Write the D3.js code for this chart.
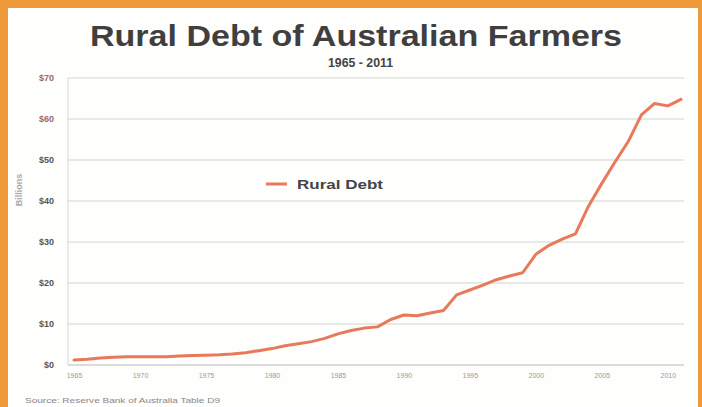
<!DOCTYPE html>
<html><head><meta charset="utf-8">
<script src="https://cdn.jsdelivr.net/npm/d3@7"></script>
<style>body{margin:0;background:#fff}svg{display:block}</style>
</head><body>
<script>
const years = d3.range(1965, 2012);
const debt = [1.2,1.4,1.7,1.9,2.0,2.0,2.0,2.0,2.2,2.3,2.4,2.5,2.7,3.0,3.5,4.0,4.7,5.2,5.7,6.5,
  7.6,8.4,9.0,9.3,11.1,12.2,12.0,12.7,13.3,17.1,18.3,19.5,20.8,21.7,22.5,27.0,29.2,30.7,32.0,38.8,
  44.3,49.5,54.5,61.0,63.8,63.2,64.8];
const yTicks = [0,10,20,30,40,50,60,70];
const xTicks = [1965,1970,1975,1980,1985,1990,1995,2000,2005,2010];
const title = "Rural Debt of Australian Farmers";
const subtitle = "1965 - 2011";
const seriesName = "Rural Debt";
const source = "Source: Reserve Bank of Australia Table D9";

const W = 702, H = 407;
const FONT = "Liberation Sans, Arial, sans-serif";
const svg = d3.select("body").append("svg").attr("width", W).attr("height", H);
svg.append("rect").attr("width", W).attr("height", H).attr("fill", "#ee9a3a");
svg.append("rect").attr("x", 8).attr("y", 8).attr("width", 690).attr("height", H - 8).attr("fill", "#fefefd");

const x = d3.scaleLinear().domain([1965, 2011]).range([74, 681]);
const y = d3.scaleLinear().domain([0, 70]).range([365, 78]);

// gridlines
svg.append("g").selectAll("line").data(yTicks).join("line")
  .attr("x1", 68).attr("x2", 684)
  .attr("y1", d => y(d)).attr("y2", d => y(d))
  .attr("stroke", d => d === 0 ? "#b8b8b8" : "#d2d2cc").attr("stroke-width", 1);
svg.append("line").attr("x1", 68).attr("x2", 68).attr("y1", y(70)).attr("y2", y(0))
  .attr("stroke", "#d8d8d8");

// y axis
const yAxis = svg.append("g").attr("transform", "translate(57,0)")
  .call(d3.axisLeft(y).tickValues(yTicks).tickSize(0).tickFormat(d => "$" + d));
yAxis.select(".domain").remove();
yAxis.selectAll("text").attr("font-family", FONT)
  .attr("font-size", 9).attr("font-weight", "bold")
  .attr("fill", d => d >= 60 ? "#9a6a68" : "#555");

// x axis
const xAxis = svg.append("g").attr("transform", "translate(0,370)")
  .call(d3.axisBottom(x).tickValues(xTicks).tickSize(0).tickFormat(d3.format("d")));
xAxis.select(".domain").remove();
xAxis.selectAll("text").attr("font-family", FONT)
  .attr("font-size", 7).attr("fill", "#999");

// line
svg.append("path").datum(years.map((yr, i) => [yr, debt[i]]))
  .attr("fill", "none").attr("stroke", "#e8795a").attr("stroke-width", 3)
  .attr("stroke-linejoin", "round").attr("stroke-linecap", "round")
  .attr("d", d3.line().x(d => x(d[0])).y(d => y(d[1])));

// titles
svg.append("text").attr("x", 90).attr("y", 46)
  .attr("font-family", FONT).attr("font-weight", "bold")
  .attr("font-size", 29).attr("fill", "#3f3f3f")
  .attr("textLength", 532).attr("lengthAdjust", "spacingAndGlyphs").text(title);
svg.append("text").attr("x", 328).attr("y", 67)
  .attr("font-family", FONT).attr("font-weight", "bold")
  .attr("font-size", 12).attr("fill", "#444")
  .attr("textLength", 65).attr("lengthAdjust", "spacingAndGlyphs").text(subtitle);

// y label
svg.append("text").attr("transform", "translate(22,190) rotate(-90)").attr("text-anchor", "middle")
  .attr("font-family", FONT).attr("font-weight", "bold")
  .attr("font-size", 9).attr("fill", "#aaa").text("Billions");

// legend
svg.append("line").attr("x1", 266).attr("x2", 287).attr("y1", 184).attr("y2", 184)
  .attr("stroke", "#e8795a").attr("stroke-width", 3);
svg.append("text").attr("x", 297).attr("y", 189)
  .attr("font-family", FONT).attr("font-weight", "bold")
  .attr("font-size", 13).attr("fill", "#444")
  .attr("textLength", 86).attr("lengthAdjust", "spacingAndGlyphs").text(seriesName);

// source
svg.append("text").attr("x", 25).attr("y", 403)
  .attr("font-family", FONT)
  .attr("font-size", 8).attr("fill", "#888")
  .attr("textLength", 195).attr("lengthAdjust", "spacingAndGlyphs").text(source);
</script>
</body></html>
